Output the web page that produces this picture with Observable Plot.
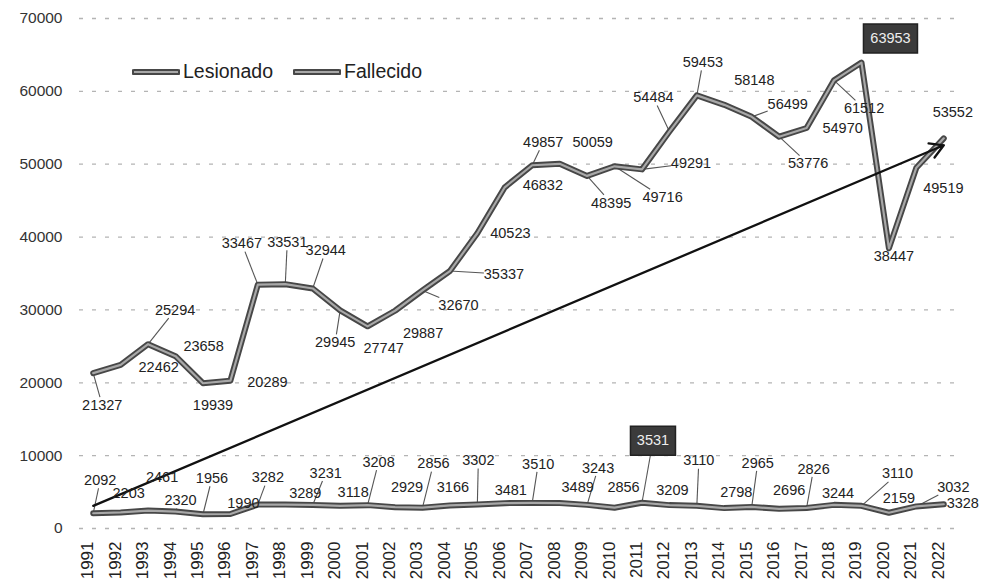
<!DOCTYPE html>
<html>
<head>
<meta charset="utf-8">
<script src="https://cdn.jsdelivr.net/npm/d3@7"></script>
<script src="https://cdn.jsdelivr.net/npm/@observablehq/plot@0.6"></script>
<style>
  html, body { margin: 0; padding: 0; background: #fff; }
  #wrap { position: relative; width: 983px; height: 581px; }
  #legend { position: absolute; left: 132px; top: 60px; display: flex; align-items: center;
    font-family: 'Liberation Sans', Arial, sans-serif; font-size: 19.5px; color: #222; }
  #legend .item { display: flex; align-items: center; margin-right: 20px; }
  #legend svg { margin-right: 3px; }
</style>
</head>
<body>
<div id="wrap">
  <div id="chart"></div>
  <div id="legend"></div>
</div>
<script>
// ---- data ----
const years = [1991,1992,1993,1994,1995,1996,1997,1998,1999,2000,2001,2002,2003,2004,2005,2006,
               2007,2008,2009,2010,2011,2012,2013,2014,2015,2016,2017,2018,2019,2020,2021,2022];
const lesionado = [21327,22462,25294,23658,19939,20289,33467,33531,32944,29945,27747,29887,32670,35337,40523,46832,
                   49857,50059,48395,49716,49291,54484,59453,58148,56499,53776,54970,61512,63953,38447,49519,53552];
const fallecido = [2092,2203,2461,2320,1956,1990,3282,3289,3231,3118,3208,2929,2856,3166,3302,3481,
                   3510,3489,3243,2856,3531,3209,3110,2798,2965,2696,2826,3244,3110,2159,3032,3328];
const seriesNames = ["Lesionado", "Fallecido"];
const trendYears = [1991, 2022];
const trendValues = [3100, 52600];
const yTicks = [0,10000,20000,30000,40000,50000,60000,70000];

// ---- layout (pixel offsets of data labels, leader flags) ----
const lesOffsets = [[9,32],[38,3],[27,-34],[28,-10],[10,22],[37,2],[-16,-41],[2,-42],[13,-38],[-5,32],[16,22],[28,23],[36,15],[54,3],[33,0],[38,-2],
                    [11,-23],[33,-21],[24,27],[48,31],[49,-6],[-16,-34],[6,-33],[30,-24],[36,-13],[29,27],[36,0],[30,28],[29,-24],[5,8],[27,21],[9,-26]];
const lesLeaders = [1,0,1,0,0,0,1,1,1,1,0,0,1,1,0,0, 1,0,1,1,1,1,1,0,1,1,0,1,0,0,0,0];
const falOffsets = [[7,-33],[8,-19],[14,-33],[5,-11],[9,-36],[13,-11],[10,-27],[20,-11],[13,-32],[13,-13],[11,-43],[12,-20],[11,-44],[3,-18],[1,-44],[6,-13],
                    [6,-39],[18,-16],[11,-37],[9,-20],[11,-62],[3,-15],[2,-45],[12,-16],[6,-44],[10,-18],[7,-39],[4,-12],[36,-32],[10,-14],[37,-19],[19,-1]];
const falLeaders = [1,0,0,1,1,0,1,0,1,0,1,0,1,0,1,0, 1,0,1,0,1,0,1,0,1,0,1,0,1,0,1,0];

const W = 983, H = 581, ML = 79, MR = 26, MT = 18, MB = 53;
const xDomain = [1990.5, 2022.5], yDomain = [0, 70000];
const KX = (W - ML - MR) / (xDomain[1] - xDomain[0]);
const KY = (H - MT - MB) / (yDomain[1] - yDomain[0]);
const FONT = "'Liberation Sans',Arial,sans-serif";
const AXFONT = "'Liberation Sans',Arial,sans-serif";

const rows = years.map((year, i) => ({year, les: lesionado[i], fal: fallecido[i]}));

function makeLabels(values, offsets, leaders, hw, hh) {
  const maxV = d3.max(values);
  const labels = [], links = [];
  values.forEach((v, i) => {
    const [dx, dy] = offsets[i];
    const lx = years[i] + dx / KX, ly = v - dy / KY;
    labels.push({x: lx, y: ly, text: String(v), hl: v === maxV});
    if (leaders[i]) {
      const t = Math.min(dx ? hw / Math.abs(dx) : Infinity, dy ? hh / Math.abs(dy) : Infinity);
      if (t < 1) {
        const ex = dx * (1 - t), ey = dy * (1 - t);
        links.push({x1: years[i], y1: v, x2: years[i] + ex / KX, y2: v - ey / KY});
      }
    }
  });
  return {labels, links};
}
const les = makeLabels(lesionado, lesOffsets, lesLeaders, 20, 8);
const fal = makeLabels(fallecido, falOffsets, falLeaders, 15, 8);
const allLabels = les.labels.concat(fal.labels);
const allLinks = les.links.concat(fal.links);

const boxSymbol = (w, h) => ({draw(ctx) { ctx.rect(-w / 2, -h / 2, w, h); }});

const chart = Plot.plot({
  width: W, height: H,
  marginLeft: ML, marginRight: MR, marginTop: MT, marginBottom: MB,
  style: {background: "#fff", overflow: "visible"},
  x: {type: "linear", domain: xDomain, axis: null},
  y: {domain: yDomain, axis: null},
  marks: [
    Plot.ruleY(yTicks, {stroke: "#b4b4b4", strokeWidth: 1.3, strokeDasharray: "4,9"}),
    Plot.text(yTicks, {y: d => d, text: d => String(d), frameAnchor: "left", textAnchor: "end", dx: -17,
      fontSize: 15.5, fontFamily: AXFONT, fill: "#333"}),
    Plot.text(years, {x: d => d, text: d => String(d), frameAnchor: "bottom", rotate: -90, textAnchor: "end", dy: 13,
      fontSize: 17, fontFamily: AXFONT, fill: "#222"}),
    Plot.link(allLinks, {x1: "x1", y1: "y1", x2: "x2", y2: "y2", stroke: "#555", strokeWidth: 1.1}),
    Plot.line(rows, {x: "year", y: "les", stroke: "#474747", strokeWidth: 6, strokeLinejoin: "round"}),
    Plot.line(rows, {x: "year", y: "les", stroke: "#a8a8a8", strokeWidth: 2.2, strokeLinejoin: "round"}),
    Plot.line(rows, {x: "year", y: "fal", stroke: "#474747", strokeWidth: 6, strokeLinejoin: "round"}),
    Plot.line(rows, {x: "year", y: "fal", stroke: "#a8a8a8", strokeWidth: 2.2, strokeLinejoin: "round"}),
    Plot.arrow([{x1: trendYears[0], y1: trendValues[0], x2: trendYears[1], y2: trendValues[1]}],
      {x1: "x1", y1: "y1", x2: "x2", y2: "y2", stroke: "#111", strokeWidth: 2.3, headLength: 10}),
    Plot.text(allLabels.filter(d => !d.hl), {x: "x", y: "y", text: "text", fontSize: 14.5, fontFamily: FONT, fill: "#222"}),
    Plot.dot(les.labels.filter(d => d.hl), {x: "x", y: "y", symbol: boxSymbol(54, 29), fill: "#3b3b3b", stroke: "#222"}),
    Plot.dot(fal.labels.filter(d => d.hl), {x: "x", y: "y", symbol: boxSymbol(45, 29), fill: "#3b3b3b", stroke: "#222"}),
    Plot.text(allLabels.filter(d => d.hl), {x: "x", y: "y", text: "text", fontSize: 14.5, fontFamily: FONT, fill: "#eee"})
  ]
});
document.getElementById("chart").appendChild(chart);

// legend
const legend = document.getElementById("legend");
seriesNames.forEach(name => {
  const item = document.createElement("div");
  item.className = "item";
  item.innerHTML = `<svg width="48" height="10"><line x1="2" y1="5" x2="46" y2="5" stroke="#474747" stroke-width="6" stroke-linecap="round"/>` +
    `<line x1="2" y1="5" x2="46" y2="5" stroke="#a8a8a8" stroke-width="2.2"/></svg><span>${name}</span>`;
  legend.appendChild(item);
});
</script>
</body>
</html>
